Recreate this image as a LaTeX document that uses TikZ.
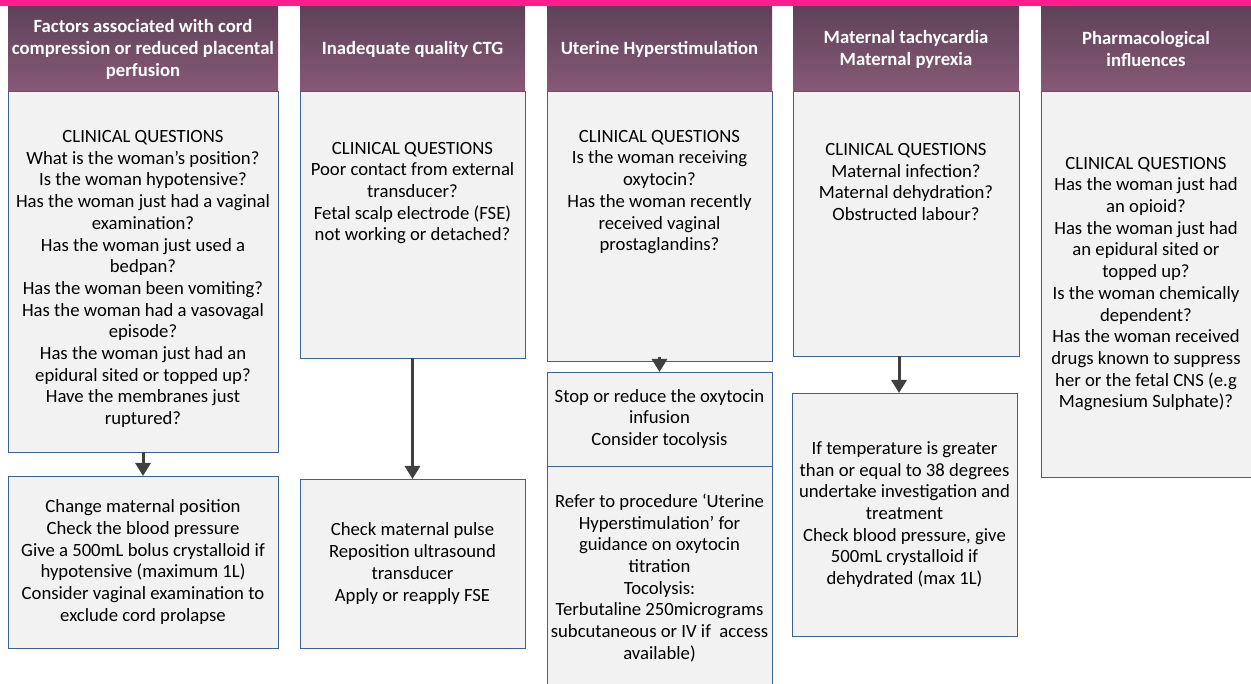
\documentclass[tikz,border=0pt]{standalone}
\usepackage{fontspec}
\setmainfont{Carlito}
\usetikzlibrary{arrows.meta}
\definecolor{pinkbar}{RGB}{255,30,140}
\definecolor{hdrtop}{RGB}{94,66,88}
\definecolor{hdrbot}{RGB}{135,89,118}
\definecolor{boxfill}{RGB}{242,242,242}
\definecolor{boxline}{RGB}{62,96,146}
\definecolor{arrowc}{RGB}{64,64,64}
\begin{document}
\begin{tikzpicture}[x=1pt,y=-1pt,
  hdr/.style={rectangle, anchor=north west, inner sep=0pt, outer sep=0pt,
    top color=hdrtop, bottom color=hdrbot, minimum height=84pt,
    align=center, font=\fontsize{18.7}{22}\selectfont\bfseries, text=white},
  qbox/.style={rectangle, anchor=north west, inner sep=0pt, outer sep=0pt,
    fill=boxfill, draw=boxline, line width=0.9pt,
    align=center, font=\fontsize{18.7}{21.7}\selectfont, text=black},
  txt/.style={align=center, font=\fontsize{18.7}{21.7}\selectfont, inner sep=0pt, text=black},
  arr/.style={draw=arrowc, line width=3pt, -{Triangle[length=13pt,width=15pt]}}
]
\useasboundingbox (0,0) rectangle (1251,684);
\node[rectangle, fill=pinkbar, inner sep=0pt, outer sep=0pt, anchor=north west,
  minimum width=1251pt, minimum height=6.5pt] (bar) at (0,0) {};

% headers
\node[hdr, minimum width=270pt] (h1) at (8,7) {Factors associated with cord\\compression or reduced placental\\perfusion};
\node[hdr, minimum width=225pt] (h2) at (300,7) {Inadequate quality CTG};
\node[hdr, minimum width=225pt] (h3) at (547,7) {Uterine Hyperstimulation};
\node[hdr, minimum width=226pt] (h4) at (793,7) {Maternal tachycardia\\Maternal pyrexia};
\node[hdr, minimum width=210pt] (h5) at (1041,7) {Pharmacological\\influences};

% question boxes
\node[qbox, minimum width=270pt, minimum height=361pt] (q1) at (8,91) {};
\node[txt] (q1t) at (143,279) {CLINICAL QUESTIONS\\What is the woman’s position?\\Is the woman hypotensive?\\Has the woman just had a vaginal\\examination?\\Has the woman just used a\\bedpan?\\Has the woman been vomiting?\\Has the woman had a vasovagal\\episode?\\Has the woman just had an\\epidural sited or topped up?\\Have the membranes just\\ruptured?};

\node[qbox, minimum width=225pt, minimum height=267pt] (q2) at (300,91) {};
\node[txt] (q2t) at (412.5,193) {CLINICAL QUESTIONS\\Poor contact from external\\transducer?\\Fetal scalp electrode (FSE)\\not working or detached?};

\node[qbox, minimum width=225pt, minimum height=270pt] (q3) at (547,91) {};
\node[txt] (q3t) at (659.5,192) {CLINICAL QUESTIONS\\Is the woman receiving\\oxytocin?\\Has the woman recently\\received vaginal\\prostaglandins?};

\node[qbox, minimum width=226pt, minimum height=265pt] (q4) at (793,91) {};
\node[txt] (q4t) at (906,182) {CLINICAL QUESTIONS\\Maternal infection?\\Maternal dehydration?\\Obstructed labour?};

\node[qbox, minimum width=210pt, minimum height=386pt] (q5) at (1041,91) {CLINICAL QUESTIONS\\Has the woman just had\\an opioid?\\Has the woman just had\\an epidural sited or\\topped up?\\Is the woman chemically\\dependent?\\Has the woman received\\drugs known to suppress\\her or the fetal CNS (e.g\\Magnesium Sulphate)?};

% action boxes
\node[qbox, minimum width=270pt, minimum height=172pt] (a1) at (8,476) {Change maternal position\\Check the blood pressure\\Give a 500mL bolus crystalloid if\\hypotensive (maximum 1L)\\Consider vaginal examination to\\exclude cord prolapse};

\node[qbox, minimum width=225pt, minimum height=169pt] (a2) at (300,479) {Check maternal pulse\\Reposition ultrasound\\transducer\\Apply or reapply FSE};

\node[qbox, minimum width=225pt, minimum height=94pt] (a3) at (547,372) {Stop or reduce the oxytocin\\infusion\\Consider tocolysis};
\node[qbox, minimum width=225pt, minimum height=218pt] (a3b) at (547,466) {};
\node[txt] (a3bt) at (659.5,578) {Refer to procedure ‘Uterine\\Hyperstimulation’ for\\guidance on oxytocin\\titration\\Tocolysis:\\Terbutaline 250micrograms\\subcutaneous or IV if\ \ access\\available)};

\node[qbox, minimum width=225pt, minimum height=243pt] (a4) at (792,393) {If temperature is greater\\than or equal to 38 degrees\\undertake investigation and\\treatment\\Check blood pressure, give\\500mL crystalloid if\\dehydrated (max 1L)};

% arrows
\draw[arr] (q1.south) -- (a1.north);
\draw[arr] (q2.south) -- (a2.north);
\draw[arr] ([yshift=4pt]q3.south) -- (a3.north);
\draw[arr] ([xshift=-7pt]q4.south) -- ([xshift=-5.5pt]a4.north);
\end{tikzpicture}
\end{document}
